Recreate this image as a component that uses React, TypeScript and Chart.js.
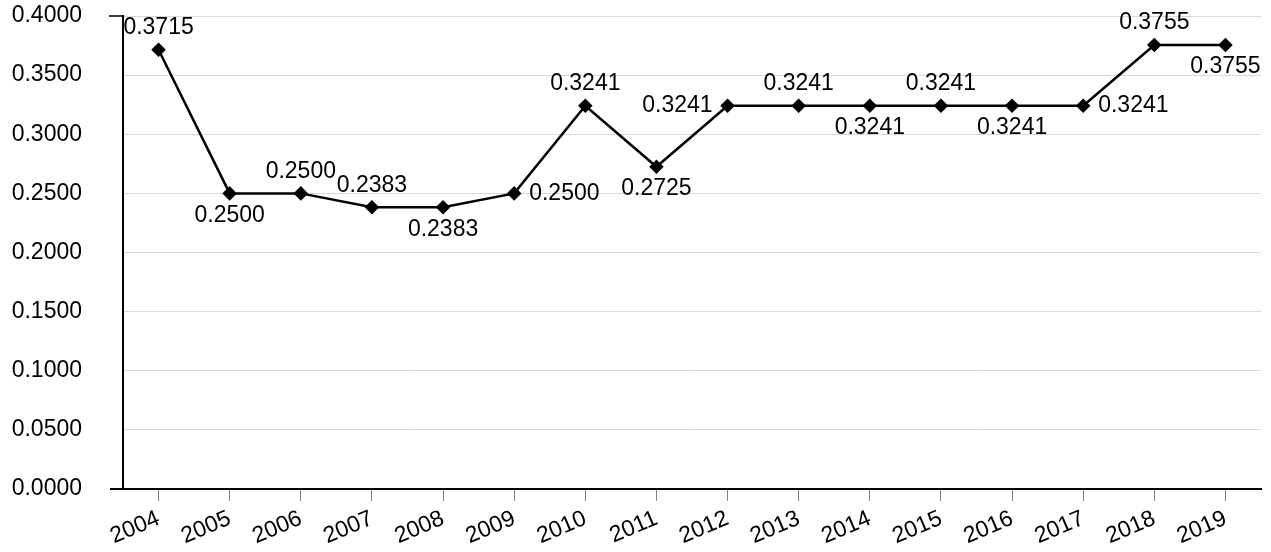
import React, { useEffect, useRef } from "react";
import { Chart, registerables } from "chart.js";

Chart.register(...registerables);

const categories = ["2004", "2005", "2006", "2007", "2008", "2009", "2010", "2011", "2012", "2013", "2014", "2015", "2016", "2017", "2018", "2019"];
const values = [0.3715, 0.25, 0.25, 0.2383, 0.2383, 0.25, 0.3241, 0.2725, 0.3241, 0.3241, 0.3241, 0.3241, 0.3241, 0.3241, 0.3755, 0.3755];
const labelPositions = ["top", "bottom", "top", "top", "bottom", "right", "top", "bottom", "left", "top", "bottom", "top", "bottom", "right", "top", "bottom"];

const FONT = "'Liberation Sans', Arial, sans-serif";
const FONT_SIZE = 23;

const dataLabelPlugin = {
  id: "dataLabels",
  afterDatasetsDraw(chart: any) {
    const ctx = chart.ctx;
    const meta = chart.getDatasetMeta(0);
    ctx.save();
    ctx.font = `${FONT_SIZE}px ${FONT}`;
    ctx.fillStyle = "#000";
    meta.data.forEach((pt: any, i: number) => {
      const v = values[i];
      const text = v.toFixed(4);
      const pos = labelPositions[i];
      let x = pt.x;
      let y = pt.y;
      ctx.textBaseline = "middle";
      if (pos === "top") {
        ctx.textAlign = "center";
        y -= 22;
      } else if (pos === "bottom") {
        ctx.textAlign = "center";
        y += 22;
      } else if (pos === "right") {
        ctx.textAlign = "left";
        x += 15;
      } else {
        ctx.textAlign = "right";
        x -= 15;
      }
      ctx.fillText(text, x, y);
    });
    ctx.restore();
  },
};

const stubPlugin = {
  id: "stubs",
  afterDraw(chart: any) {
    const ctx = chart.ctx;
    const a = chart.chartArea;
    ctx.save();
    ctx.strokeStyle = "#000";
    ctx.lineWidth = 1.5;
    ctx.beginPath();
    ctx.moveTo(a.left - 14, a.top);
    ctx.lineTo(a.left, a.top);
    ctx.stroke();
    ctx.lineWidth = 2;
    ctx.beginPath();
    ctx.moveTo(a.left - 13, a.bottom);
    ctx.lineTo(a.left, a.bottom);
    ctx.stroke();
    ctx.restore();
  },
};

export default function App() {
  const ref = useRef<HTMLCanvasElement>(null);
  useEffect(() => {
    if (!ref.current) return;
    const chart = new Chart(ref.current, {
      type: "line",
      data: {
        labels: categories,
        datasets: [
          {
            data: values,
            borderColor: "#000",
            backgroundColor: "#000",
            borderWidth: 2.5,
            pointStyle: "rectRot",
            pointRadius: 5.5,
            pointBackgroundColor: "#000",
            pointBorderColor: "#000",
            tension: 0,
          },
        ],
      },
      options: {
        animation: false,
        responsive: false,
        maintainAspectRatio: false,
        layout: { padding: { top: 16, right: 10, left: 0, bottom: 0 } },
        plugins: { legend: { display: false }, tooltip: { enabled: false } },
        scales: {
          x: {
            offset: true,
            grid: {
              offset: false,
              drawOnChartArea: false,
              drawTicks: true,
              tickLength: 12,
              color: "#808080",
            },
            border: { color: "#000", width: 2 },
            ticks: {
              color: "#000",
              font: { family: FONT, size: FONT_SIZE },
              minRotation: 23,
              maxRotation: 23,
              padding: 4,
              autoSkip: false,
            },
            afterFit(scale: any) {
              scale.height = 63;
              scale.paddingLeft = 0;
              scale.paddingRight = 0;
            },
          },
          y: {
            min: 0,
            max: 0.4,
            grid: { color: "#d9d9d9", lineWidth: 1, drawTicks: false },
            border: { color: "#000", width: 2 },
            ticks: {
              stepSize: 0.05,
              color: "#000",
              font: { family: FONT, size: FONT_SIZE },
              padding: 41,
              callback: (v: any) => Number(v).toFixed(4),
            },
            afterFit(scale: any) {
              scale.width = 123;
              scale.paddingTop = 0;
              scale.paddingBottom = 0;
            },
          },
        },
      },
      plugins: [dataLabelPlugin, stubPlugin],
    });
    return () => chart.destroy();
  }, []);
  return (
    <div style={{ position: "fixed", left: 0, top: 0, width: 1271, height: 552, background: "#fff" }}>
      <canvas ref={ref} width={1271} height={552} style={{ width: 1271, height: 552 }} />
    </div>
  );
}
